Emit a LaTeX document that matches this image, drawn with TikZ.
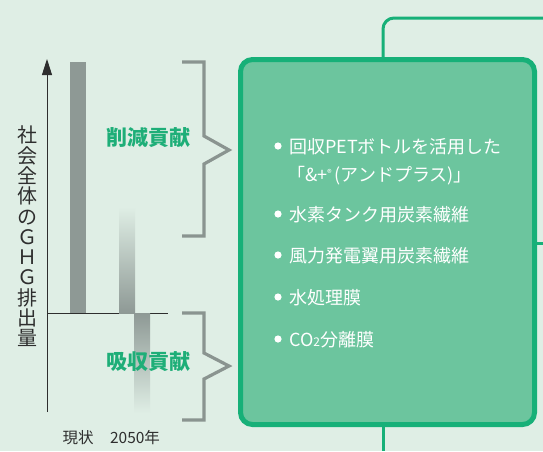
\documentclass[tikz,border=0pt]{standalone}
\usepackage{fontspec}
\setmainfont{Noto Sans CJK JP}
\usetikzlibrary{positioning,arrows.meta,calc}
\definecolor{cbg}{HTML}{DFEEE5}
\definecolor{cpanel}{HTML}{6CC59E}
\definecolor{cline}{HTML}{17B078}
\definecolor{cgreen}{HTML}{1EAE78}
\definecolor{cbar}{HTML}{8E9995}
\definecolor{cbrace}{HTML}{8A9490}
\definecolor{cdark}{HTML}{2E2E2E}

\begin{document}
\begin{tikzpicture}[x=1pt,y=-1pt,
  brace/.style={draw=cbrace,line width=3.2pt,line join=miter},
  tag/.style={text=cgreen,inner sep=0pt,font=\fontsize{21}{21}\selectfont\bfseries},
  item/.style={text=white,anchor=base west,inner sep=0pt,font=\fontsize{18}{18}\selectfont},
  year/.style={text=cdark,inner sep=0pt,font=\fontsize{15.5}{15.5}\selectfont},
  link/.style={draw=cline,line width=3pt,rounded corners=11pt}]
% background and frame
\fill[cbg] (0,0) rectangle (543,451);
\useasboundingbox (0,0) rectangle (543,451);
% axes
\coordinate (ybot) at (47,412);
\coordinate (ytop) at (47,59);
\coordinate (zero) at (47,313);
\coordinate (zeroend) at (168,313);
\draw[cdark,line width=0.9pt,-{Triangle[length=16pt,width=10pt]}] (ybot) -- (ytop);
\draw[cdark,line width=0.9pt] (zero) -- (zeroend);
\node[text=cdark,align=center,inner sep=0pt,font=\fontsize{20}{20.3}\selectfont]
  (ylabel) at (27,236.5) {社\\会\\全\\体\\の\\Ｇ\\Ｈ\\Ｇ\\排\\出\\量};
% bars: today, 2050 (emission + absorption, fading)
\fill[cbar] (70,62) rectangle (86,313);
\shade[top color=cbg,bottom color=cbar] (119,207) rectangle (135,313);
\shade[top color=cbar,bottom color=cbg] (134,313) rectangle (150,413);
\node[year] (now) at (78,438) {現状};
\node[year] (y2050) at (135,438) {2050年};
% braces
\draw[brace] (182,62) -- (204,62) -- (204,136) -- (229,150) -- (204,164)
  -- (204,236) -- (182,236);
\draw[brace] (182,313) -- (204,313) -- (204,353) -- (229,366) -- (204,379)
  -- (204,420) -- (182,420);
\node[tag] (cut) at (148,138) {削減貢献};
\node[tag] (absorb) at (148,362) {吸収貢献};
% product panel
\node[draw=cline,fill=cpanel,line width=5pt,rounded corners=12pt,
  minimum width=294pt,minimum height=365pt] (panel) at (387.5,242) {};
\node[item] (i1) at (289,153) {回収PETボトルを活用した};
\node[item] (i1b) at (287,181)
  {「\&+\raisebox{5pt}{\fontsize{9}{9}\selectfont ®}\,(アンドプラス)」};
\node[item] (i2) at (289,221) {水素タンク用炭素繊維};
\node[item] (i3) at (289,262) {風力発電翼用炭素繊維};
\node[item] (i4) at (289,304) {水処理膜};
\node[item] (i5) at (289,346) {CO{\fontsize{12}{12}\selectfont 2}分離膜};
\foreach \n in {i1,i2,i3,i4,i5}
  \fill[white] ($(\n.base west)+(-11,-7)$) circle (3.6);
% links leaving the panel
\coordinate (stem) at (383,451);
\coordinate (topend) at (543,18);
\coordinate (rightend) at (543,243);
\draw[link] (panel.north -| stem) |- (topend);
\draw[link] (panel.south -| stem) -- (stem);
\draw[link] (panel.east |- rightend) -- (rightend);
\end{tikzpicture}
\end{document}
